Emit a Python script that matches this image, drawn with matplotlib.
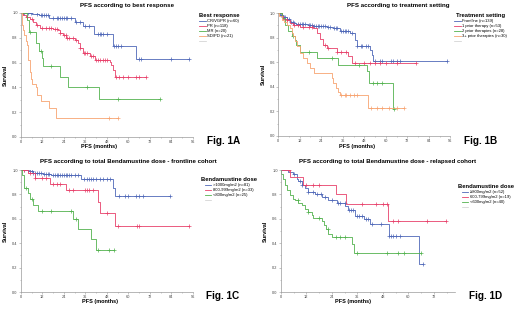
import matplotlib
matplotlib.use("Agg")
import matplotlib.pyplot as plt
from matplotlib.ticker import MultipleLocator
import numpy as np

plt.rcParams['font.family'] = ['Liberation Sans', 'DejaVu Sans']

BLUE = '#4f68b8'
RED = '#e8406a'
GREEN = '#52b24e'
ORANGE = '#f7a370'

# ---- Fig. 1A: best response
a_cr_t = [6, 10, 16, 30, 34.7, 41, 51.5, 64.5]
a_cr_s = [0.99, 0.98, 0.955, 0.925, 0.895, 0.83, 0.735, 0.63]
a_cr_c = [2, 4, 5.5, 9, 11, 12, 13, 14, 15, 18, 20, 21, 22, 23, 24, 25, 26, 28, 31, 33,
          36, 38, 43, 44, 45, 46, 48, 52, 53, 54, 56, 66, 67, 84, 94]
a_pr_t = [1.5, 3, 5.0, 6.9, 8.7, 10.6, 15.2, 18, 20.8, 21.7, 23.6, 25.4, 30.1, 32, 32.9,
          34.7, 38.5, 41.2, 49.6, 50.5, 51.5, 52.4]
a_pr_s = [0.985, 0.97, 0.95, 0.93, 0.90, 0.88, 0.875, 0.87, 0.865, 0.84, 0.825, 0.80, 0.78,
          0.757, 0.72, 0.68, 0.65, 0.62, 0.605, 0.58, 0.54, 0.48]
a_pr_c = [1, 3.5, 6, 9, 12, 14, 16, 17, 19, 20, 22, 24, 25, 26, 27, 29, 31, 33, 35, 36, 37,
          39, 40, 42, 43, 44, 46, 47, 48, 53, 55, 57, 60, 64, 66, 70]
a_mr_t = [3.2, 4.6, 8.2, 10, 12.1, 12.4, 22.1, 26.4, 43.5]
a_mr_s = [0.94, 0.85, 0.757, 0.69, 0.635, 0.57, 0.486, 0.405, 0.305]
a_mr_c = [5, 11, 17, 37, 54, 77.5]
a_sd_t = [0.4, 0.8, 1.3, 2.0, 2.8, 3.3, 3.8, 4.1, 5.0, 5.5, 6.3, 8.4, 9.1, 11.5, 15.6, 19.5]
a_sd_s = [0.95, 0.905, 0.86, 0.82, 0.77, 0.74, 0.68, 0.62, 0.52, 0.47, 0.43, 0.405, 0.34,
          0.29, 0.23, 0.157]
a_sd_c = [49, 54]
a_labels = ['CR/VGPR (n=60)', 'PR (n=118)', 'MR (n=20)', 'SD/PD (n=21)']

# ---- Fig. 1B: treatment setting
b_fl_t = [0.9, 2.8, 4.7, 6.5, 8.4, 10.2, 16.8, 19.6, 27, 30.7, 34.5, 40, 42.9, 43.8, 51.2,
          52.2, 53.1]
b_fl_s = [0.986, 0.967, 0.95, 0.93, 0.92, 0.913, 0.905, 0.897, 0.886, 0.878, 0.85, 0.837,
          0.783, 0.728, 0.70, 0.66, 0.61]
b_fl_c = [1.5, 3, 4, 5, 6, 7, 8, 9, 11, 12, 13, 14, 15, 17, 18, 19, 20, 21, 22, 23, 24, 25,
          26, 28, 29, 31, 32, 33, 35, 36, 37, 38, 39, 41, 44, 46, 47, 49, 50, 54, 57, 58,
          63, 64, 66, 68, 94]
b_p1_t = [1.9, 2.8, 4.7, 6.5, 8.4, 12.1, 19.6, 21.4, 23.3, 25.2, 27, 32.6, 39.1, 41]
b_p1_s = [0.978, 0.95, 0.94, 0.92, 0.905, 0.89, 0.878, 0.837, 0.788, 0.74, 0.715, 0.68,
          0.647, 0.59]
b_p1_c = [5, 9, 11, 14, 17, 19, 26, 28, 33, 35, 38, 43, 48, 51, 54, 57, 60, 66, 77]
b_p2_t = [1.9, 3.7, 5.6, 7.5, 9.3, 10.2, 12.1, 21.8, 33.5, 49.4, 50.9, 64.3]
b_p2_s = [0.96, 0.905, 0.85, 0.815, 0.78, 0.74, 0.685, 0.633, 0.58, 0.525, 0.43, 0.22]
b_p2_c = [8, 17, 30, 45, 53, 55, 58, 64.5]
b_p3_t = [0.6, 1.9, 3.2, 4.7, 6.5, 7.5, 8.4, 9.3, 10.6, 12.1, 14, 15.8, 17.7, 19.9, 29.8,
          30.7, 32.2, 33.5, 34.5, 50.3]
b_p3_s = [0.973, 0.946, 0.924, 0.905, 0.88, 0.837, 0.81, 0.77, 0.728, 0.674, 0.633, 0.592,
          0.552, 0.51, 0.47, 0.43, 0.39, 0.36, 0.336, 0.226]
b_p3_c = [35, 37, 38, 40, 42, 44, 52, 55, 58, 62, 66, 70]
b_labels = ['Frontline (n=139)', '1 prior therapy (n=53)', '2 prior therapies (n=28)',
            '3+ prior therapies (n=30)']

# ---- Fig. 1C: bendamustine dose, frontline cohort
c_hi_t = [4.1, 6.9, 12.4, 17.1, 33.8, 51.5, 52.4]
c_hi_s = [0.99, 0.98, 0.967, 0.96, 0.93, 0.85, 0.786]
c_hi_c = [2, 4, 5, 6, 7, 8, 9, 10, 11, 13, 14, 15, 16, 18, 19, 20, 21, 22, 23, 24, 25, 26,
          27, 28, 30, 32, 35, 37, 38, 39, 40, 42, 44, 46, 48, 50, 55, 58, 60, 64, 66, 68, 83]
c_mid_t = [4.1, 7.8, 16.2, 25.4, 43.1, 44, 52.4]
c_mid_s = [0.973, 0.937, 0.89, 0.84, 0.74, 0.652, 0.542]
c_mid_c = [2, 5, 8, 12, 14, 18, 20, 22, 27, 29, 36, 37, 38, 40, 48, 54, 65, 66, 94]
c_lo_t = [0.9, 1.9, 4.1, 5.0, 6.9, 9.7, 29.2, 32, 39.4, 42.2]
c_lo_s = [0.96, 0.85, 0.81, 0.76, 0.71, 0.663, 0.603, 0.52, 0.438, 0.348]
c_lo_c = [3, 6, 12, 17, 28, 31, 43, 49, 52]
c_labels = ['>1000mg/m2 (n=81)', '800-999mg/m2 (n=33)', '<800mg/m2 (n=25)']

# ---- Fig. 1D: bendamustine dose, relapsed cohort
d_hi_t = [3.5, 5.8, 7.4, 8.2, 9.8, 11.4, 12.9, 16.1, 19.3, 22.4, 26.4, 30.3, 31.4, 35.1,
          39, 42.2, 50.8, 65]
d_hi_s = [0.986, 0.967, 0.93, 0.91, 0.877, 0.85, 0.82, 0.80, 0.78, 0.753, 0.73, 0.707,
          0.67, 0.625, 0.597, 0.56, 0.46, 0.233]
d_hi_c = [6, 9, 10, 13, 15, 17, 19, 21, 24, 27, 28, 30, 32, 33, 34, 36, 37, 38, 40, 41, 43,
          47, 51, 52, 53, 54, 56, 67]
d_mid_t = [4.3, 10.6, 26.1, 30.8, 50.4]
d_mid_s = [0.94, 0.88, 0.80, 0.72, 0.584]
d_mid_c = [4, 12, 15, 18, 38, 45, 48, 50, 53, 55, 69, 77.7]
d_lo_t = [0.3, 1.1, 1.9, 2.7, 4.3, 5.8, 6.6, 8.2, 9.8, 11.4, 12.9, 14.5, 15.3, 19.3, 20.4,
          21.3, 22.4, 24, 33.5, 34.3]
d_lo_s = [0.97, 0.93, 0.877, 0.836, 0.795, 0.767, 0.753, 0.73, 0.71, 0.68, 0.658, 0.63,
          0.608, 0.586, 0.548, 0.515, 0.48, 0.452, 0.39, 0.32]
d_lo_c = [8, 13, 18, 22, 26, 28, 30, 36, 50, 55, 58, 65.8]
d_labels = ['\u2265800mg/m2 (n=52)', '600-799mg/m2 (n=19)', '<600mg/m2 (n=40)']

W, H = 520, 311


def km(ax, t, s, cens, color, label):
    end = max(max(cens), max(t))
    tt = np.r_[0, t, end]
    ss = np.r_[1.0, s, s[-1]]
    ax.step(tt, ss, where='post', color=color, lw=0.6, label=label)
    idx = np.searchsorted(tt, cens, side='right') - 1
    ax.plot(cens, ss[idx], ls='none', marker='+', ms=2.2, mew=0.5, color=color)


def px(x, y):
    return x / W, 1 - y / H


def setup(ax, title, title_xy, xlab_xy, xmax, xtick_max, legend_title, leg_xy,
          fig_label, fig_xy):
    ax.set_xlim(0, xmax)
    ax.set_ylim(0, 1.0)
    ax.set_xticks(np.arange(0, xtick_max + 1, 12))
    ax.set_yticks(np.arange(0, 1.01, 0.2))
    ax.set_yticklabels(['%.1f' % v for v in np.arange(0, 1.01, 0.2)])
    ax.xaxis.set_minor_locator(MultipleLocator(6))
    ax.yaxis.set_minor_locator(MultipleLocator(0.1))
    for sp in ['top', 'right']:
        ax.spines[sp].set_visible(False)
    for sp in ['left', 'bottom']:
        ax.spines[sp].set_color('#9a9a9a')
        ax.spines[sp].set_linewidth(0.5)
    ax.tick_params(which='both', length=1.2, width=0.4, color='#9a9a9a', labelsize=2.8,
                   labelcolor='#444444', pad=1)
    ax.tick_params(which='minor', length=0.8)
    fig.text(*px(*title_xy), title, fontsize=4.4, fontweight='bold',
             ha='center', va='center')
    fig.text(*px(*xlab_xy), 'PFS (months)', fontsize=4, fontweight='bold',
             ha='center', va='center')
    ax.set_ylabel('Survival', fontsize=4, fontweight='bold', labelpad=3)
    ax.plot([], [], color='#cccccc', lw=0.5, label=' ')
    ax.legend(loc='upper left', bbox_to_anchor=px(*leg_xy),
              bbox_transform=fig.transFigure, frameon=False, fontsize=3.0,
              title=legend_title, title_fontproperties={'weight': 'bold', 'size': 4.2},
              handlelength=1.6, handletextpad=0.3, labelspacing=0.25,
              borderpad=0, alignment='center')
    fig.text(*px(*fig_xy), fig_label, fontsize=7.2, fontweight='bold',
             ha='center', va='center')


fig = plt.figure(figsize=(5.2, 3.11), dpi=100)

ax_a = fig.add_axes([0.040, 0.5595, 0.331, 0.399])
km(ax_a, a_cr_t, a_cr_s, a_cr_c, BLUE, a_labels[0])
km(ax_a, a_pr_t, a_pr_s, a_pr_c, RED, a_labels[1])
km(ax_a, a_mr_t, a_mr_s, a_mr_c, GREEN, a_labels[2])
km(ax_a, a_sd_t, a_sd_s, a_sd_c, ORANGE, a_labels[3])
setup(ax_a, 'PFS according to best response', (127, 6), (99, 147), 96, 96,
      'Best response', (197, 11), 'Fig. 1A', (224, 141))

ax_b = fig.add_axes([0.535, 0.563, 0.331, 0.395])
km(ax_b, b_fl_t, b_fl_s, b_fl_c, BLUE, b_labels[0])
km(ax_b, b_p1_t, b_p1_s, b_p1_c, RED, b_labels[1])
km(ax_b, b_p2_t, b_p2_s, b_p2_c, GREEN, b_labels[2])
km(ax_b, b_p3_t, b_p3_s, b_p3_c, ORANGE, b_labels[3])
setup(ax_b, 'PFS according to treatment setting', (398, 6), (357, 147), 96, 96,
      'Treatment setting', (452, 11), 'Fig. 1B', (481, 141))

ax_c = fig.add_axes([0.040, 0.061, 0.331, 0.392])
km(ax_c, c_hi_t, c_hi_s, c_hi_c, BLUE, c_labels[0])
km(ax_c, c_mid_t, c_mid_s, c_mid_c, RED, c_labels[1])
km(ax_c, c_lo_t, c_lo_s, c_lo_c, GREEN, c_labels[2])
setup(ax_c, 'PFS according to total Bendamustine dose - frontline cohort', (128, 161),
      (100, 302), 96, 96, 'Bendamustine dose', (199, 175), 'Fig. 1C', (223, 296))

ax_d = fig.add_axes([0.540, 0.061, 0.335, 0.392])
km(ax_d, d_hi_t, d_hi_s, d_hi_c, BLUE, d_labels[0])
km(ax_d, d_mid_t, d_mid_s, d_mid_c, RED, d_labels[1])
km(ax_d, d_lo_t, d_lo_s, d_lo_c, GREEN, d_labels[2])
setup(ax_d, 'PFS according to total Bendamustine dose - relapsed cohort', (388, 161),
      (353, 302), 82, 72, 'Bendamustine dose', (456, 182), 'Fig. 1D', (486, 296))

fig.savefig('out.png', dpi=100)
